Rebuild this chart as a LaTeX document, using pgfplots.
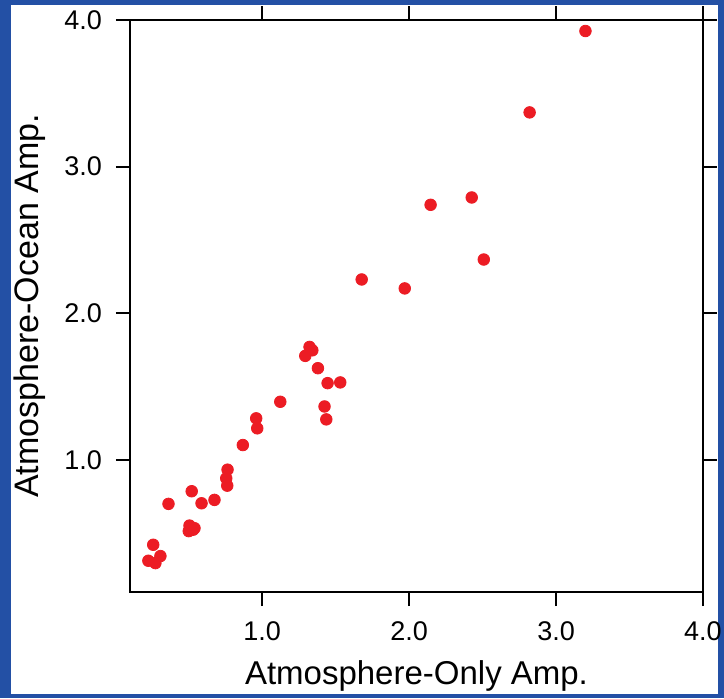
\documentclass[border=0pt]{standalone}
\usepackage{fontspec}
\setmainfont{Liberation Sans}
\usepackage{pgfplots}
\pgfplotsset{compat=1.18}
\definecolor{bgblue}{RGB}{35,80,165}
\definecolor{ptred}{RGB}{236,28,36}
\begin{document}
\begin{tikzpicture}
\fill[bgblue] (-65pt,-53pt) rectangle (297pt,296pt);
\fill[white] (-59.5pt,-51pt) rectangle (294pt,293.5pt);
\begin{axis}[
  at={(0pt,0pt)}, anchor=south west,
  scale only axis, width=286.5pt, height=286pt,
  xmin=0.1, xmax=4.0, ymin=0.1, ymax=4.0,
  xtick={1,2,3,4}, ytick={1,2,3,4},
  tick align=outside, major tick length=7pt,
  axis line style={line width=0.85pt},
  every tick/.style={line width=0.85pt, black},
  xtick pos=both, ytick pos=both,
  xticklabel pos=lower, yticklabel pos=left,
  /pgf/number format/.cd, fixed, fixed zerofill, precision=1, assume math mode=true,
  /pgfplots/.cd,
  tick label style={font=\fontsize{13.5}{15}\selectfont},
  xticklabel style={yshift=-4.5pt},
  yticklabel style={xshift=-3.5pt},
  xlabel={Atmosphere-Only Amp.},
  ylabel={Atmosphere-Ocean Amp.},
  xlabel style={font=\fontsize{16.5}{19}\selectfont, at={(axis description cs:0.5,0)}, anchor=center, yshift=-42pt},
  ylabel style={font=\fontsize{17}{20}\selectfont, at={(axis description cs:0,0.5)}, anchor=center, rotate=0, yshift=50pt},
]
\addplot[only marks, mark=*, mark size=2.9pt, mark options={fill=ptred, draw=ptred}] coordinates {
(3.20,3.925) (2.82,3.37) (2.146,2.74) (2.426,2.79) (2.508,2.367)
(1.677,2.231) (1.97,2.17)
(1.322,1.771) (1.341,1.748) (1.293,1.710) (1.379,1.626)
(1.445,1.524) (1.531,1.529) (1.123,1.397) (1.424,1.365) (1.436,1.277)
(0.959,1.284) (0.966,1.216) (0.868,1.102)
(0.764,0.934) (0.755,0.875) (0.762,0.825)
(0.520,0.787) (0.675,0.728) (0.587,0.705) (0.362,0.701)
(0.505,0.553) (0.539,0.535) (0.500,0.515) (0.53,0.525)
(0.258,0.422) (0.307,0.345) (0.225,0.313) (0.273,0.297)
};
\end{axis}
\pgfresetboundingbox
\path[use as bounding box] (-65pt,-53pt) rectangle (297pt,296pt);
\end{tikzpicture}
\end{document}
